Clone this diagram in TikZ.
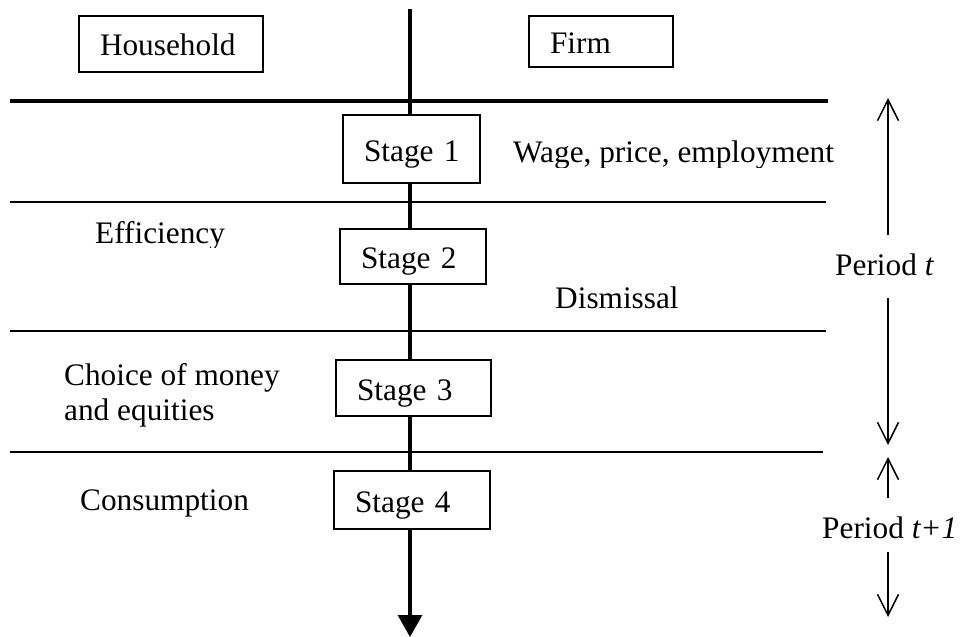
\documentclass[tikz,border=0pt]{standalone}
\usepackage{fontspec}
\setmainfont{Liberation Serif}
\usetikzlibrary{arrows.meta}
\begin{document}
\begin{tikzpicture}[x=1pt,y=-1pt,
  every node/.style={font=\fontsize{31.3pt}{35pt}\selectfont},
  lbl/.style={anchor=base west, inner sep=0pt},
  box/.style={draw, line width=2pt, fill=white, inner xsep=21pt, inner ysep=0pt, align=left, text height=24pt, text depth=0pt},
  sep/.style={line width=2pt},
  thicksep/.style={line width=4.3pt},
  spine/.style={line width=3.3pt},
  parr/.style={line width=1.5pt, -{Straight Barb[length=21pt,width=21pt,line width=1.5pt]}}
]
\useasboundingbox (0,0) rectangle (962,637);

% header boxes
\node[box, text width=142pt, minimum height=56pt] (hh) at (171,44) {\mbox{Household}};
\node[box, text width=102pt, minimum height=51pt] (firm) at (601,41.5) {\mbox{Firm}};

% stage boxes
\node[box, text width=95pt, minimum height=68pt] (s1) at (411.5,149) {\mbox{Stage 1}};
\node[box, text width=104pt, minimum height=55pt] (s2) at (413,256.5) {\mbox{Stage 2}};
\node[box, text width=113pt, minimum height=56pt] (s3) at (413.5,388) {\mbox{Stage 3}};
\node[box, text width=114pt, minimum height=58pt] (s4) at (412,500) {\mbox{Stage 4}};

% separating lines
\coordinate (h0a) at (10,101);  \coordinate (h0b) at (828,101);
\coordinate (h1a) at (10,202);  \coordinate (h1b) at (826,202);
\coordinate (h2a) at (10,331);  \coordinate (h2b) at (826,331);
\coordinate (h3a) at (10,452);  \coordinate (h3b) at (823,452);
\draw[thicksep] (h0a) -- (h0b);
\draw[sep] (h1a) -- (h1b);
\draw[sep] (h2a) -- (h2b);
\draw[sep] (h3a) -- (h3b);

% time line
\coordinate (top) at (410,9);
\coordinate (bot) at (410,637);
\draw[spine] (top) -- (top |- s1.north);
\draw[spine] (top |- s1.south) -- (top |- s2.north);
\draw[spine] (top |- s2.south) -- (top |- s3.north);
\draw[spine] (top |- s3.south) -- (top |- s4.north);
\draw[spine,-{Triangle[length=22pt,width=24pt]}] (top |- s4.south) -- (bot);

% labels
\begin{scope}
  \clip (0,0) rectangle (962,167);
  \node[lbl] (wage) at (513,162) {Wage, price, employment};
\end{scope}
\begin{scope}
  \clip (0,0) rectangle (962,247);
  \node[lbl] (eff) at (95,243) {Efficiency};
\end{scope}
\node[lbl] (dis) at (555,308) {Dismissal};
\node[lbl] (ch1) at (64,385) {Choice of money};
\node[lbl] (ch2) at (64,420) {and equities};
\node[lbl] (cons) at (80,510) {Consumption};

% periods
\node[lbl] (pt) at (835,275) {Period \textit{t}};
\node[lbl] (pt1) at (822,538) {Period \textit{t+1}};
\coordinate (pta) at (888,235); \coordinate (ptb) at (888,98);
\coordinate (ptc) at (888,298); \coordinate (ptd) at (888,445);
\coordinate (pua) at (888,498); \coordinate (pub) at (888,457);
\coordinate (puc) at (888,552); \coordinate (pud) at (888,617);
\draw[parr] (pta) -- (ptb);
\draw[parr] (ptc) -- (ptd);
\draw[parr] (pua) -- (pub);
\draw[parr] (puc) -- (pud);
\end{tikzpicture}
\end{document}
